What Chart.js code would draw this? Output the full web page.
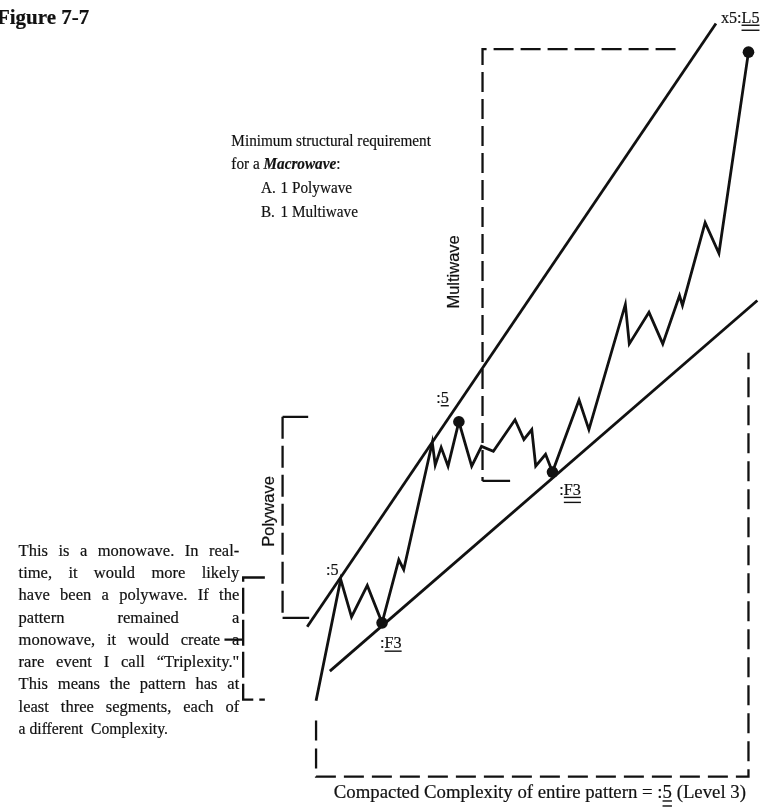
<!DOCTYPE html>
<html>
<head>
<meta charset="utf-8">
<script src="https://cdn.jsdelivr.net/npm/chart.js@4/dist/chart.umd.min.js"></script>
<style>
  html, body { margin: 0; padding: 0; background: #fff; }
  #wrap { width: 772px; height: 810px; }
</style>
</head>
<body>
<div id="wrap"><canvas id="chart" width="772" height="810"></canvas></div>
<script>
// readings: x = time, y = price (page units, growing downward)
const waveX = [315, 340, 351, 367, 382, 399, 404, 433, 436, 442, 449, 460, 473, 483, 495, 517, 526, 534, 538, 548, 555, 582, 592, 629, 633, 653, 667, 684, 687, 710, 724, 754];
const waveY = [705, 582, 620, 588, 626, 562, 572, 443, 466, 448, 467, 422, 467, 447, 452, 420, 440, 430, 467, 455, 473, 400, 430, 303, 343, 311, 343, 294, 304, 220, 251, 47];

const upperX = [306, 721];
const upperY = [630, 18];
const lowerX = [329, 763];
const lowerY = [675, 299];

// the marked turning points
const dotX = [382, 460, 555, 754];
const dotY = [626, 422, 473, 47];

// brackets
const polyX = [281, 281];
const polyY = [417, 621];
const polyTopX = [307, 281];
const polyTopY = [417, 417];
const polyBotX = [281, 308];
const polyBotY = [621, 621];

const multiX = [680, 484, 484];
const multiY = [44, 44, 482];
const multiBotX = [484, 512];
const multiBotY = [482, 482];

const patternX = [315, 315, 754, 754];
const patternY = [725, 782, 782, 352];

const noteX = [263, 241, 241, 263];
const noteY = [580, 580, 704, 704];
const noteTickX = [222, 241];
const noteTickY = [643, 643];

const noteLines = [
  "This is a monowave. In real-",
  "time, it would more likely",
  "have been a polywave. If the",
  "pattern remained a",
  "monowave, it would create a",
  "rare event I call \u201cTriplexity.\"",
  "This means the pattern has at",
  "least three segments, each of",
  "a different  Complexity."
];

const SERIF = '"Liberation Serif", "Times New Roman", serif';
const SANS = '"Liberation Sans", Arial, sans-serif';
const INK = "#111";

function pts(xs, ys) {
  return xs.map((x, i) => ({ x: x, y: ys[i] }));
}

function line(xs, ys, width, dash) {
  return {
    data: pts(xs, ys),
    showLine: true,
    borderColor: INK,
    borderWidth: width,
    borderDash: dash || [],
    pointRadius: 0,
    fill: false
  };
}

// print-like text: a touch heavy, optionally squeezed sideways
function paint(ctx, str) {
  ctx.fillText(str, 0, 0);
  ctx.strokeText(str, 0, 0);
}

function drawText(ctx, str, x, y, font, squeeze) {
  ctx.font = font;
  const k = squeeze || 1;
  const w = ctx.measureText(str).width * k;
  ctx.save();
  ctx.translate(x, y);
  ctx.scale(k, 1);
  paint(ctx, str);
  ctx.restore();
  return w;
}

function underline(ctx, x, y, w, double) {
  ctx.fillRect(x, y + 2, w, 1.4);
  if (double) ctx.fillRect(x, y + 7, w, 1.4);
}

function justify(ctx, str, x, y, width, font) {
  ctx.font = font;
  const words = str.split(/\s+/);
  let k = 1;
  const ws = words.map(w => ctx.measureText(w).width);
  const total = ws.reduce((a, b) => a + b, 0);
  let gap = (width - total) / (words.length - 1);
  if (gap < 3) {
    k = (width - 3 * (words.length - 1)) / total;
    gap = 3;
  }
  let cx = x;
  words.forEach((w, i) => {
    ctx.save();
    ctx.translate(cx, y);
    ctx.scale(k, 1);
    paint(ctx, w);
    ctx.restore();
    cx += ws[i] * k + gap;
  });
}

const annotations = {
  id: "annotations",
  afterDraw(chart) {
    const ctx = chart.ctx;
    const sx = v => chart.scales.x.getPixelForValue(v);
    const sy = v => chart.scales.y.getPixelForValue(v);
    ctx.save();
    ctx.fillStyle = INK;
    ctx.strokeStyle = INK;
    ctx.lineWidth = 0.2;
    ctx.textBaseline = "alphabetic";
    ctx.textAlign = "left";

    // title
    drawText(ctx, "Figure 7-7", sx(-9), sy(18), "bold 21px " + SERIF, 1);

    // end label
    const lf = "17px " + SERIF;
    let w = drawText(ctx, "x5:", sx(726), sy(17), lf, 0.95);
    let w2 = drawText(ctx, "L5", sx(726) + w, sy(17), lf, 0.95);
    underline(ctx, sx(726) + w, sy(17), w2, true);

    // wave labels
    w = drawText(ctx, ":", sx(437), sy(403), lf, 0.95);
    w2 = drawText(ctx, "5", sx(437) + w, sy(403), lf, 0.95);
    underline(ctx, sx(437) + w, sy(403), w2, false);

    drawText(ctx, ":5", sx(325), sy(577), lf, 0.95);

    w = drawText(ctx, ":", sx(380), sy(652), lf, 0.95);
    w2 = drawText(ctx, "F3", sx(380) + w, sy(652), lf, 0.95);
    underline(ctx, sx(380) + w, sy(652), w2, false);

    w = drawText(ctx, ":", sx(562), sy(496), lf, 0.95);
    w2 = drawText(ctx, "F3", sx(562) + w, sy(496), lf, 0.95);
    underline(ctx, sx(562) + w, sy(496), w2, true);

    // rotated bracket names
    ctx.font = "16.5px " + SANS;
    ctx.textAlign = "center";
    ctx.textBaseline = "middle";
    ctx.save();
    ctx.translate(sx(456), sy(270));
    ctx.rotate(-Math.PI / 2);
    paint(ctx, "Multiwave");
    ctx.restore();
    ctx.save();
    ctx.translate(sx(268), sy(513));
    ctx.rotate(-Math.PI / 2);
    paint(ctx, "Polywave");
    ctx.restore();
    ctx.textAlign = "left";
    ctx.textBaseline = "alphabetic";

    // requirement block
    const bf = "17.5px " + SERIF;
    const sq = 0.87;
    drawText(ctx, "Minimum structural requirement", sx(229), sy(142), bf, sq);
    w = drawText(ctx, "for a ", sx(229), sy(166), bf, sq);
    w2 = drawText(ctx, "Macrowave", sx(229) + w, sy(166), "italic bold 17.5px " + SERIF, sq);
    drawText(ctx, ":", sx(229) + w + w2, sy(166), bf, sq);
    drawText(ctx, "A.", sx(259), sy(190), bf, sq);
    drawText(ctx, "1 Polywave", sx(279), sy(190), bf, sq);
    drawText(ctx, "B.", sx(259), sy(214), bf, sq);
    drawText(ctx, "1 Multiwave", sx(279), sy(214), bf, sq);

    // side note, justified
    const nf = "16.5px " + SERIF;
    noteLines.forEach((t, i) => {
      const y = sy(558 + i * 22.6);
      if (i === noteLines.length - 1) {
        drawText(ctx, t, sx(13), y, nf, 0.95);
      } else {
        justify(ctx, t, sx(13), y, sx(237) - sx(13), nf);
      }
    });

    // caption
    const cf = "18.8px " + SERIF;
    let cx = sx(333);
    const cy = sy(804);
    cx += drawText(ctx, "Compacted Complexity of entire pattern = :", cx, cy, cf, 1);
    w2 = drawText(ctx, "5", cx, cy, cf, 1);
    underline(ctx, cx, cy, w2, true);
    cx += w2;
    drawText(ctx, " (Level 3)", cx, cy, cf, 1);

    ctx.restore();
  }
};

new Chart(document.getElementById("chart"), {
  type: "scatter",
  data: {
    datasets: [
      line(waveX, waveY, 2.8),
      line(upperX, upperY, 2.8),
      line(lowerX, lowerY, 2.8),
      line(polyX, polyY, 2.3, [22, 7]),
      line(polyTopX, polyTopY, 2.3),
      line(polyBotX, polyBotY, 2.3),
      line(multiX, multiY, 2.3, [20, 7]),
      line(multiBotX, multiBotY, 2.3),
      line(patternX, patternY, 2.3, [20, 8]),
      line(noteX, noteY, 2.3, [26, 6]),
      line(noteTickX, noteTickY, 2.3),
      {
        data: pts(dotX, dotY),
        showLine: false,
        pointRadius: 5.8,
        pointBackgroundColor: INK,
        pointBorderColor: INK,
        pointBorderWidth: 0
      }
    ]
  },
  options: {
    responsive: false,
    animation: false,
    layout: { padding: 0 },
    plugins: { legend: { display: false }, tooltip: { enabled: false } },
    elements: { line: { tension: 0, borderCapStyle: "butt", borderJoinStyle: "miter" } },
    scales: {
      x: { type: "linear", min: 0, max: 772, display: false },
      y: { type: "linear", min: 0, max: 810, reverse: true, display: false }
    }
  },
  plugins: [annotations]
});
</script>
</body>
</html>
